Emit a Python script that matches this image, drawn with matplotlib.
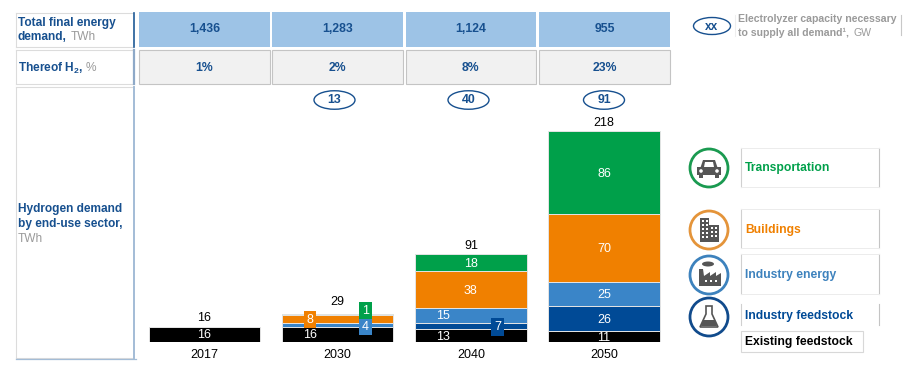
import numpy as np
import matplotlib
matplotlib.use('Agg')
import matplotlib.pyplot as plt
from matplotlib.patches import Rectangle, Ellipse, Circle, Polygon

plt.rcParams['font.family'] = ['Liberation Sans', 'DejaVu Sans']
plt.rcParams['mathtext.fontset'] = 'custom'
plt.rcParams['mathtext.bf'] = 'Liberation Sans:bold'
plt.rcParams['mathtext.rm'] = 'Liberation Sans:bold'

years = ['2017', '2030', '2040', '2050']
total_demand = ['1,436', '1,283', '1,124', '955']
h2_share = ['1%', '2%', '8%', '23%']
electrolyzer = ['', '13', '40', '91']
totals = [16, 29, 91, 218]

existing = [16, 16, 13, 11]
ind_feedstock = [0, 0, 7, 26]
ind_energy = [0, 4, 15, 25]
buildings = [0, 8, 38, 70]
transport = [0, 1, 18, 86]

series = [existing, ind_feedstock, ind_energy, buildings, transport]
names = ['Existing feedstock', 'Industry feedstock', 'Industry energy', 'Buildings', 'Transportation']
colors = ['#000000', '#004a96', '#3a85c8', '#f08000', '#00a04a']

NAVY = '#17508f'
GREY = '#9a9a9a'
W, H = 919, 382

fig = plt.figure(figsize=(W / 100, H / 100), dpi=100)

# chart axes, placed so bars land on the picture's pixels
ax = fig.add_axes([138 / W, (H - 342) / H, 533 / W, 242 / H])
ax.set_xlim((138 - 204.5) / 133.2, (671 - 204.5) / 133.2)
ax.set_ylim(0, 242 / 0.968)
ax.axis('off')

x = np.arange(len(years))
bottom = np.zeros(len(years))
# label offsets for the thin segments that carry boxed labels
shift = {(1, 0): -0.21, (2, 0): -0.21, (1, 2): 0.21, (1, 4): 0.21, (1, 3): -0.21, (2, 1): 0.2, (2, 2): -0.21}
for s, vals in enumerate(series):
    vals = np.array(vals)
    ax.bar(x, vals, 0.835, bottom=bottom, color=colors[s], edgecolor='#e4e4e4', linewidth=0.7)
    for i, v in enumerate(vals):
        if v == 0:
            continue
        xp = x[i] + shift.get((i, s), 0)
        yp = bottom[i] + v / 2 - 1
        if (i, s) in [(1, 2), (1, 3), (1, 4), (2, 1)]:
            box = dict(boxstyle='square,pad=0.22', fc=colors[s], ec='none')
            if (i, s) == (1, 4):
                yp += 5
            if (i, s) == (1, 2):
                yp -= 1
            ax.text(xp, yp, str(v), color='white', fontsize=9, ha='center', va='center', bbox=box, zorder=5)
        else:
            ax.text(xp, yp, str(v), color='white', fontsize=9, ha='center', va='center', zorder=5)
    bottom += vals

label_gap = [1.5, 4.5, 1.5, 1.5]
for i, t in enumerate(totals):
    ax.annotate(str(t), (x[i], t), xytext=(0, label_gap[i]), textcoords='offset points', ha='center', va='bottom',
                fontsize=9, color='black')
    ax.annotate(years[i], (x[i], 0), xytext=(0, -9), textcoords='offset points', ha='center', va='center',
                fontsize=9, color='black')

# overlay in pixel coordinates for the table and legend
ov = fig.add_axes([0, 0, 1, 1], zorder=3)
ov.set_xlim(0, W)
ov.set_ylim(H, 0)
ov.axis('off')
ov.patch.set_alpha(0)

col_x = [(139, 270), (272, 403), (405.5, 536), (539, 670)]
for i, (a, b) in enumerate(col_x):
    ov.add_patch(Rectangle((a, 12), b - a, 34.5, fc='#9dc3e6', ec='none'))
    ov.add_patch(Rectangle((a, 50), b - a, 34, fc='#f1f1f1', ec='#c4c4c4', lw=0.8))
    ov.text((a + b) / 2, 29.5, total_demand[i], color=NAVY, fontsize=8.8, fontweight='bold', ha='center', va='center')
    ov.text((a + b) / 2, 68, h2_share[i], color=NAVY, fontsize=8.8, fontweight='bold', ha='center', va='center')

ell_x = [None, 334.5, 468.5, 604]
for i, lab in enumerate(electrolyzer):
    if lab:
        ov.add_patch(Ellipse((ell_x[i], 100), 41, 18.5, fc='white', ec=NAVY, lw=1))
        ov.text(ell_x[i], 100, lab, color=NAVY, fontsize=8.8, fontweight='bold', ha='center', va='center')

# row header boxes
for y0, y1, c, lw in [(12.5, 46.5, '#1f5a96', 1.2), (50, 84, '#8ea9c8', 1.6), (87, 358, '#a3bcd6', 1.4)]:
    ov.plot([15.5, 133], [y0, y0], color='#dcdcdc', lw=0.8)
    ov.plot([15.5, 15.5], [y0, y1], color='#dcdcdc', lw=0.8)
    ov.plot([15.5, 133], [y1, y1], color='#dcdcdc', lw=0.8)
    ov.plot([134, 134], [y0, y1], color=c, lw=lw)
ov.plot([15.5, 136], [358.5, 358.5], color='#a3bcd6', lw=0.9)

bold = dict(color=NAVY, fontsize=8.6, fontweight='bold', va='center', ha='left')
ov.text(18, 23, 'Total final energy', **bold)
ov.text(18, 37.5, 'demand,', **bold)
ov.text(71, 37.5, 'TWh', color=GREY, fontsize=8.6, va='center')
ov.text(18, 68, r'Thereof H$\mathbf{_2}$,', **bold)
ov.text(85.5, 68, '%', color=GREY, fontsize=8.6, va='center')
ov.text(18, 209, 'Hydrogen demand', **bold)
ov.text(18, 224, 'by end-use sector,', **bold)
ov.text(18, 238.5, 'TWh', color=GREY, fontsize=8.6, va='center')

# electrolyzer key
ov.add_patch(Ellipse((712, 26), 37, 17, fc='white', ec=NAVY, lw=1))
ov.text(712, 26.5, 'xx', color=NAVY, fontsize=8.6, fontweight='bold', ha='center', va='center')
ov.text(737.5, 19.5, 'Electrolyzer capacity necessary', color=GREY, fontsize=7.6, fontweight='bold', va='center')
ov.text(737.5, 33, 'to supply all demand\u00b9,', color=GREY, fontsize=7.6, fontweight='bold', va='center')
ov.text(853, 33, 'GW', color=GREY, fontsize=7.6, va='center')
ov.plot([901, 901], [15, 35], color='#c8c8c8', lw=0.8)
ov.plot([735, 735], [15, 36], color='#eeeeee', lw=0.8)

# legend boxes and icons
leg_y = {4: (148, 187), 3: (209, 248), 2: (254, 294), 1: (304, 325)}
circ_y = {4: 168, 3: 230, 2: 275, 1: 317}
ICON = '#555555'


def car(cx, cy):
    ov.add_patch(Polygon([(cx - 9, cy + 1), (cx - 6, cy - 8), (cx + 6, cy - 8), (cx + 9, cy + 1)], fc=ICON, ec='none', zorder=4))
    ov.add_patch(Polygon([(cx - 5, cy - 1), (cx - 4, cy - 6), (cx + 4, cy - 6), (cx + 5, cy - 1)], fc='white', ec='none', zorder=4))
    ov.add_patch(Rectangle((cx - 12, cy - 1), 24, 8, fc=ICON, ec='none', zorder=4))
    ov.add_patch(Rectangle((cx - 10, cy + 7), 4, 3, fc=ICON, ec='none', zorder=4))
    ov.add_patch(Rectangle((cx + 6, cy + 7), 4, 3, fc=ICON, ec='none', zorder=4))
    ov.add_patch(Circle((cx - 8, cy + 3), 1.8, fc='white', ec='none', zorder=5))
    ov.add_patch(Circle((cx + 8, cy + 3), 1.8, fc='white', ec='none', zorder=5))


def building(cx, cy):
    ov.add_patch(Rectangle((cx - 9, cy - 12), 9, 24, fc=ICON, ec='none', zorder=4))
    ov.add_patch(Rectangle((cx, cy - 5), 10, 17, fc=ICON, ec='none', zorder=4))
    for yy in np.arange(cy - 10, cy + 8, 4):
        for xx in [cx - 7, cx - 3]:
            ov.add_patch(Rectangle((xx, yy), 2, 2, fc='white', ec='none', zorder=5))
    for yy in np.arange(cy - 3, cy + 8, 4):
        for xx in [cx + 2, cx + 6]:
            ov.add_patch(Rectangle((xx, yy), 2, 2, fc='white', ec='none', zorder=5))


def factory(cx, cy):
    ov.add_patch(Polygon([(cx - 10, cy + 11), (cx - 10, cy - 6), (cx - 6, cy - 6), (cx - 5, cy + 1), (cx + 1, cy - 3),
                          (cx + 1, cy + 1), (cx + 7, cy - 3), (cx + 7, cy + 1), (cx + 12, cy - 2), (cx + 12, cy + 11)],
                         fc=ICON, ec='none', zorder=4))
    ov.add_patch(Ellipse((cx - 1, cy - 11), 12, 5, fc=ICON, ec='none', zorder=4))
    for xx in [cx - 4, cx + 1, cx + 6]:
        ov.add_patch(Rectangle((xx, cy + 5), 2, 2, fc='white', ec='none', zorder=5))


def flask(cx, cy):
    ov.add_patch(Polygon([(cx - 3, cy - 11), (cx + 3, cy - 11), (cx + 3, cy - 3), (cx + 9, cy + 10), (cx - 9, cy + 10), (cx - 3, cy - 3)],
                         fc='white', ec=ICON, lw=1.2, zorder=4))
    ov.add_patch(Polygon([(cx - 6, cy + 3), (cx + 6, cy + 3), (cx + 8, cy + 9), (cx - 8, cy + 9)], fc=ICON, ec='none', zorder=5))


icons = {4: car, 3: building, 2: factory, 1: flask}
ring = {4: '#1a9a50', 3: '#e4943a', 2: '#3d82bd', 1: '#114b8c'}
for s in [4, 3, 2, 1]:
    y0, y1 = leg_y[s]
    ov.plot([741, 741], [y0, y1], color='#d0d0d0', lw=0.8)
    ov.plot([878.5, 878.5], [y0, y1], color='#c4c4c4', lw=0.8)
    if s != 1:
        ov.plot([741, 878.5], [y0, y0], color='#ececec', lw=0.7)
        ov.plot([741, 878.5], [y1, y1], color='#ececec', lw=0.7)
    ov.add_patch(Circle((709, circ_y[s]), 19, fc='white', ec=ring[s], lw=2, zorder=3))
    icons[s](709, circ_y[s])
    ov.text(745, (y0 + y1) / 2 + 1, names[s], color=colors[s] if s != 2 else '#3d82bd', fontsize=8.7,
            fontweight='bold', va='center', zorder=4)

ov.add_patch(Rectangle((741, 331), 122, 20.5, fc='white', ec='#d8d8d8', lw=0.8))
ov.text(745, 342, names[0], color='black', fontsize=8.7, fontweight='bold', va='center')

fig.savefig('out.png', dpi=100)
